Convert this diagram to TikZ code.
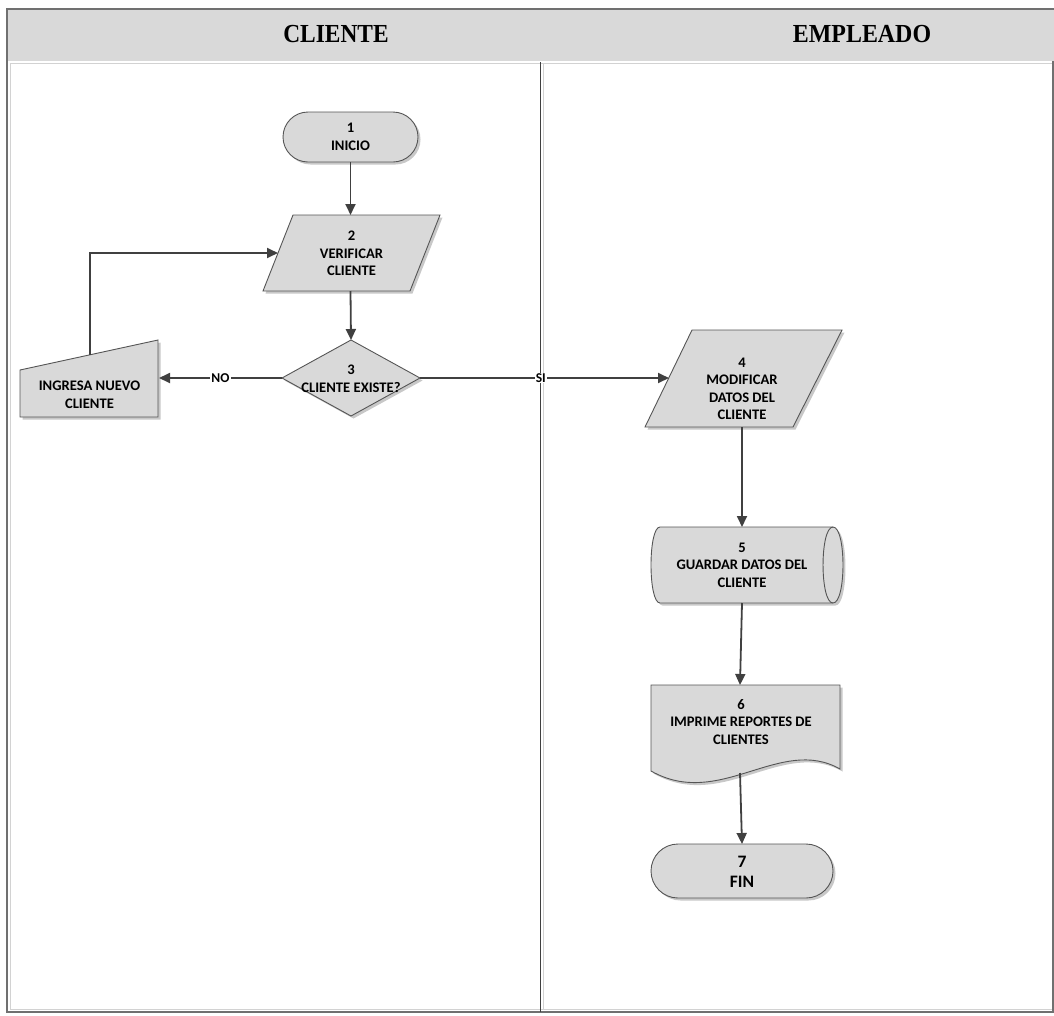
\documentclass[tikz,border=0pt]{standalone}
\usepackage{fontspec}
\setmainfont{Carlito}
\newfontfamily\headfont{Liberation Serif}
\usetikzlibrary{arrows.meta,shadows}

\definecolor{shapefill}{HTML}{D9D9D9}
\definecolor{edgecol}{HTML}{555555}
\definecolor{flowcol}{HTML}{404040}
\definecolor{framedark}{HTML}{707070}
\definecolor{framelight}{HTML}{D2D2D2}
\definecolor{shadowcol}{HTML}{C8C8C8}

\tikzset{
  shapebox/.style={draw=edgecol, line width=0.9pt, fill=shapefill,
    general shadow={fill=shadowcol, shadow xshift=2.5pt, shadow yshift=-2.5pt}},
  flow/.style={draw=flowcol, line width=1.8pt, -{Triangle[length=11pt,width=10pt]}},
  txt/.style={font=\bfseries\fontsize{14.6}{17.5}\selectfont, align=center, inner sep=0pt},
  bigtxt/.style={font=\bfseries\fontsize{17.5}{20}\selectfont, align=center, inner sep=0pt},
  edgetag/.style={font=\bfseries\fontsize{13.5}{15}\selectfont, fill=white, inner sep=1pt},
  lanehead/.style={font=\headfont\bfseries\fontsize{26}{30}\selectfont, inner sep=0pt},
}

\begin{document}
\begin{tikzpicture}[x=1pt, y=-1pt]
\useasboundingbox (0,0) rectangle (1054,1015);

% swimlane frame
\fill[shapefill] (6,9) rectangle (1054,61);
\draw[framedark, line width=1.2pt] (6,9) -- (1054,9);
\draw[framelight, line width=1pt] (10,63.5) -- (1054,63.5);
\draw[framelight, line width=1pt] (10.5,63) -- (10.5,1009.5) -- (1054,1009.5);
\draw[framedark, line width=1.5pt] (7,9) -- (7,1012) -- (1054,1012);
\draw[framedark, line width=1.2pt] (1053,61) -- (1053,1012);
\draw[flowcol, line width=1.3pt] (540.5,62) -- (540.5,1012);
\draw[framelight, line width=1pt] (543.5,63) -- (543.5,1010);

\node[lanehead] (laneA) at (336,34) {\scalebox{0.9}[1]{CLIENTE}};
\node[lanehead] (laneB) at (862,34) {\scalebox{0.92}[1]{EMPLEADO}};

% 1 start terminator
\draw[shapebox, rounded corners=25pt] (283,112) rectangle (418,162);
\node[txt] (n1) at (350.5,137) {1\\INICIO};
\coordinate (n1s) at (350.5,162);

% 2 verify customer (data)
\draw[shapebox] (293,215) -- (440,215) -- (410,291) -- (263,291) -- cycle;
\node[txt] (n2) at (351.5,253.5) {2\\VERIFICAR\\CLIENTE};
\coordinate (n2n) at (350.5,215);
\coordinate (n2w) at (278,253);
\coordinate (n2s) at (350.5,291);

% 3 decision
\draw[shapebox] (351,340) -- (420,378) -- (351,416) -- (282,378) -- cycle;
\node[txt] (n3) at (351,379) {3\\CLIENTE EXISTE?};
\coordinate (n3n) at (351,340);
\coordinate (n3w) at (282,378);
\coordinate (n3e) at (420,378);

% manual input: new customer
\draw[shapebox] (20,370) -- (158,340) -- (158,417) -- (20,417) -- cycle;
\node[txt] (nm) at (89.5,395) {INGRESA NUEVO\\CLIENTE};
\coordinate (nme) at (159,378);
\coordinate (nmn) at (90,355);

% 4 modify data
\draw[shapebox] (692,330) -- (842,330) -- (793,427) -- (645,427) -- cycle;
\node[txt] (n4) at (742,389) {4\\MODIFICAR\\DATOS DEL\\CLIENTE};
\coordinate (n4w) at (669,378);
\coordinate (n4s) at (742,427);

% 5 stored data
\draw[shapebox] (660,527) -- (833,527)
  .. controls (846.3,527) and (846.3,603) .. (833,603)
  -- (660,603)
  .. controls (648,603) and (648,527) .. (660,527) -- cycle;
\draw[edgecol, line width=0.9pt] (833,527) .. controls (819.7,527) and (819.7,603) .. (833,603);
\node[txt] (n5) at (742,565) {5\\GUARDAR DATOS DEL\\CLIENTE};
\coordinate (n5n) at (742,527);
\coordinate (n5s) at (742,603);

% 6 printed report
\draw[shapebox] (651,685) -- (840,685) -- (840,769)
  .. controls (780,735) and (720,810) .. (651,771) -- cycle;
\node[txt] (n6) at (741,722) {6\\IMPRIME REPORTES DE\\CLIENTES};
\coordinate (n6n) at (740,685);
\coordinate (n6s) at (740,773);

% 7 end terminator
\draw[shapebox, rounded corners=27pt] (651,844) rectangle (833,898);
\node[bigtxt] (n7) at (742,872) {7\\FIN};
\coordinate (n7n) at (742,844);

% connectors
\draw[flow] (n1s) -- (n2n);
\draw[flow] (n2s) -- (n3n);
\draw[flow] (n3w) -- node[edgetag] (tno) {NO} (nme);
\draw[flow] (nmn) |- (n2w);
\draw[flow] (n3e) -- node[edgetag, pos=0.485] (tsi) {SI} (n4w);
\draw[flow] (n4s) -- (n5n);
\draw[flow] (n5s) -- (n6n);
\draw[flow] (n6s) -- (n7n);
\end{tikzpicture}
\end{document}
